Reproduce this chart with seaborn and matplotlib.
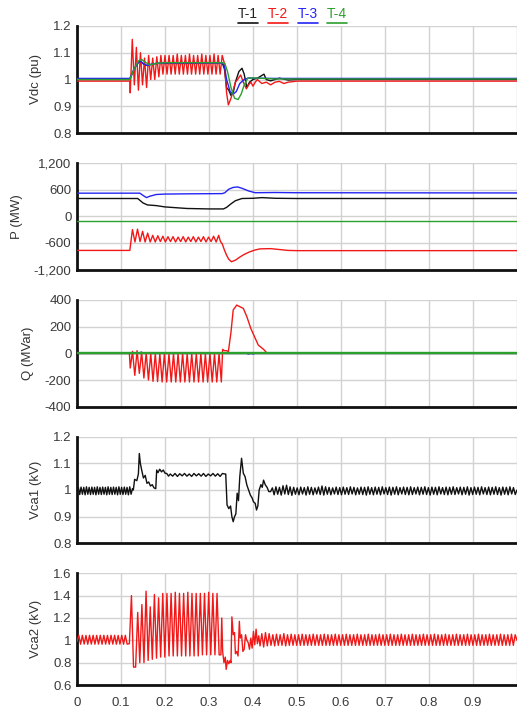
import numpy as np
import pandas as pd
import matplotlib
matplotlib.use("Agg")
import matplotlib.pyplot as plt
from matplotlib.lines import Line2D
import seaborn as sns

# ---------------------------------------------------------------- labels
series_names = ["T-1", "T-2", "T-3", "T-4"]
series_colors = ["#111111", "#f21818", "#2424f5", "#2ca02c"]
legend_text_colors = ["#222222", "#f21818", "#2424f5", "#2ca02c"]

x_ticks = [0, 0.1, 0.2, 0.3, 0.4, 0.5, 0.6, 0.7, 0.8, 0.9, 1.0]
x_tick_labels = ["0", "0.1", "0.2", "0.3", "0.4", "0.5", "0.6", "0.7", "0.8", "0.9", ""]

panel_ylabels = ["Vdc (pu)", "P (MW)", "Q (MVar)", "Vca1 (kV)", "Vca2 (kV)"]
panel_yticks = [
    [0.8, 0.9, 1.0, 1.1, 1.2],
    [-1200, -600, 0, 600, 1200],
    [-400, -200, 0, 200, 400],
    [0.8, 0.9, 1.0, 1.1, 1.2],
    [0.6, 0.8, 1.0, 1.2, 1.4, 1.6],
]
panel_ytick_labels = [
    ["0.8", "0.9", "1", "1.1", "1.2"],
    ["-1,200", "-600", "0", "600", "1,200"],
    ["-400", "-200", "0", "200", "400"],
    ["0.8", "0.9", "1", "1.1", "1.2"],
    ["0.6", "0.8", "1", "1.2", "1.4", "1.6"],
]

# ---------------------------------------------------------------- Vdc (pu)
vdc_t1_time = [0, 0.12, 0.13, 0.14, 0.145, 0.155, 0.165, 0.18, 0.2, 0.25,
               0.33, 0.335, 0.34, 0.345, 0.35, 0.355, 0.36, 0.368, 0.375, 0.38,
               0.386, 0.392, 0.4, 0.41, 0.42, 0.425, 0.43, 0.44, 0.46, 0.48, 0.5, 1.0]
vdc_t1_vals = [1.0, 1.0, 1.04, 1.065, 1.067, 1.052, 1.055, 1.06, 1.06, 1.06,
               1.062, 1.04, 0.97, 0.96, 0.94, 0.95, 0.99, 1.03, 1.042, 1.02,
               0.97, 0.99, 1.0, 1.005, 1.015, 1.02, 1.0, 0.995, 1.005, 0.998, 1.0, 1.0]

vdc_t2_pre_time = [0, 0.12]
vdc_t2_pre_vals = [0.994, 0.994]
vdc_t2_fault_span = (0.121, 0.33)
vdc_t2_fault_vals = [0.95, 1.15, 0.98, 1.12, 0.96, 1.10, 0.98, 1.08, 0.97, 1.09,
                     1.00, 1.08, 1.00, 1.085, 1.01, 1.09, 1.02, 1.09, 1.02, 1.09,
                     1.02, 1.09, 1.02, 1.095, 1.02, 1.09, 1.02, 1.09, 1.02, 1.095,
                     1.02, 1.09, 1.02, 1.09, 1.02, 1.095, 1.02, 1.09, 1.02, 1.09,
                     1.02, 1.095, 1.02, 1.09, 1.02, 1.09]
vdc_t2_post_time = [0.335, 0.34, 0.344, 0.35, 0.355, 0.36, 0.365, 0.372, 0.378, 0.385,
                    0.39, 0.395, 0.4, 0.405, 0.41, 0.42, 0.43, 0.44, 0.45, 0.46,
                    0.47, 0.48, 0.5, 1.0]
vdc_t2_post_vals = [1.06, 0.95, 0.905, 0.93, 0.96, 0.99, 1.0, 1.017, 0.99, 0.965,
                    0.98, 0.99, 0.975, 0.99, 1.0, 0.985, 0.99, 0.98, 0.99, 0.993,
                    0.985, 0.99, 0.994, 0.994]

vdc_t3_time = [0, 0.12, 0.13, 0.14, 0.145, 0.15, 0.16, 0.17, 0.18, 0.2, 0.33,
               0.335, 0.34, 0.348, 0.355, 0.362, 0.37, 0.38, 0.39, 0.4, 0.45, 1.0]
vdc_t3_vals = [1.004, 1.004, 1.04, 1.065, 1.068, 1.06, 1.052, 1.058, 1.06, 1.062, 1.062,
               1.05, 1.0, 0.955, 0.945, 0.955, 0.985, 1.0, 1.006, 1.005, 1.004, 1.004]

vdc_t4_time = [0, 0.12, 0.13, 0.14, 0.147, 0.155, 0.165, 0.18, 0.2, 0.33,
               0.336, 0.342, 0.35, 0.358, 0.366, 0.373, 0.38, 0.388, 0.4, 0.45, 1.0]
vdc_t4_vals = [1.0, 1.0, 1.04, 1.07, 1.075, 1.065, 1.055, 1.06, 1.063, 1.063,
               1.06, 1.03, 0.97, 0.93, 0.925, 0.945, 0.98, 1.005, 1.006, 1.002, 1.002]

# ---------------------------------------------------------------- P (MW)
p_t1_time = [0, 0.138, 0.15, 0.16, 0.18, 0.2, 0.25, 0.3, 0.333, 0.34,
             0.35, 0.36, 0.375, 0.4, 0.42, 0.45, 0.5, 1.0]
p_t1_vals = [400, 400, 300, 255, 240, 210, 175, 165, 165, 200,
             280, 350, 400, 405, 420, 405, 400, 400]

p_t2_pre_time = [0, 0.12]
p_t2_pre_vals = [-770, -770]
p_t2_fault_span = (0.126, 0.322)
p_t2_fault_vals = [-300, -580, -290, -570, -340, -580, -380, -580, -430, -580,
                   -440, -570, -450, -580, -460, -570, -460, -580, -470, -570,
                   -460, -580, -470, -570, -460, -580, -470, -570, -460, -580,
                   -470, -570, -450, -580, -430]
p_t2_post_time = [0.326, 0.33, 0.335, 0.34, 0.345, 0.351, 0.36, 0.37, 0.38,
                  0.393, 0.405, 0.416, 0.44, 0.46, 0.48, 0.5, 1.0]
p_t2_post_vals = [-570, -620, -760, -880, -970, -1025, -990, -920, -860,
                  -800, -760, -735, -730, -750, -770, -775, -775]

p_t3_time = [0, 0.143, 0.15, 0.158, 0.165, 0.18, 0.2, 0.25, 0.33, 0.336,
             0.345, 0.355, 0.365, 0.375, 0.39, 0.405, 0.45, 0.5, 1.0]
p_t3_vals = [520, 520, 470, 420, 450, 490, 500, 505, 510, 530,
             610, 650, 660, 630, 570, 530, 535, 530, 525]

p_t4_time = [0, 1.0]
p_t4_vals = [-100, -100]

# ---------------------------------------------------------------- Q (MVar)
q_t1_time = [0, 1.0]
q_t1_vals = [0, 0]

q_t2_pre_time = [0, 0.119]
q_t2_pre_vals = [0, 0]
q_t2_fault_span = (0.121, 0.328)
q_t2_fault_vals = [-110, 15, -165, 20, -150, 10, -185, 5, -200, 0,
                   -210, 0, -212, -2, -215, 0, -215, -3, -215, 0,
                   -215, -2, -215, 0, -215, -3, -215, 0, -215, -2,
                   -215, 0, -215, -3, -215, 0, -215, -2, -215, 0, -215]
q_t2_post_time = [0.331, 0.335, 0.34, 0.344, 0.35, 0.355, 0.363, 0.37, 0.378,
                  0.386, 0.395, 0.4, 0.412, 0.424, 0.431, 1.0]
q_t2_post_vals = [30, 20, 20, 12, 160, 325, 362, 350, 337,
                  275, 187, 150, 62, 30, 5, 0]

q_t3_time = [0, 0.13, 0.135, 0.14, 0.145, 0.15, 0.155, 0.385, 0.39, 0.395, 0.4, 0.405, 0.41, 1.0]
q_t3_vals = [0, 0, 6, 2, 8, 3, 0, 0, -5, 0, -4, 0, 0, 0]

q_t4_time = [0, 1.0]
q_t4_vals = [0, 0]

# ---------------------------------------------------------------- Vca1 (kV)
vca1_pre_span = (0.0, 0.126)
vca1_pre_vals = [0.990, 1.010, 0.983, 1.011, 0.984, 1.010, 0.982, 1.012, 0.984, 1.010,
                 0.983, 1.011, 0.984, 1.010, 0.982, 1.012, 0.984, 1.010, 0.983, 1.011,
                 0.984, 1.010, 0.982, 1.012, 0.984, 1.010, 0.983, 1.011, 0.984, 1.010,
                 0.982, 1.012, 0.984, 1.010, 0.983, 1.011, 0.984, 1.010, 0.982, 1.012,
                 0.984, 1.005]
vca1_fault_time = [0.128, 0.131, 0.136, 0.1395, 0.1416, 0.144, 0.147, 0.151, 0.155, 0.159,
                   0.163, 0.167, 0.171, 0.175, 0.179, 0.1811, 0.184, 0.188, 0.192, 0.196,
                   0.2, 0.204, 0.208]
vca1_fault_vals = [1.00, 1.04, 1.035, 1.06, 1.137, 1.10, 1.075, 1.045, 1.055, 1.025,
                   1.03, 1.015, 1.02, 1.008, 1.005, 1.075, 1.065, 1.078, 1.068, 1.075,
                   1.063, 1.062, 1.052]
vca1_plateau_span = (0.212, 0.336)
vca1_plateau_vals = [1.060, 1.052, 1.062, 1.051, 1.061, 1.053, 1.062, 1.052, 1.060, 1.051,
                     1.062, 1.053, 1.061, 1.052, 1.062, 1.051, 1.060, 1.053, 1.062, 1.052,
                     1.061, 1.051, 1.062, 1.060]
vca1_post_time = [0.338, 0.341, 0.345, 0.349, 0.352, 0.355, 0.358, 0.361, 0.364, 0.367,
                  0.370, 0.374, 0.378, 0.382, 0.386, 0.390, 0.394, 0.398, 0.401, 0.405,
                  0.408, 0.411, 0.414, 0.418, 0.421, 0.424, 0.428, 0.432, 0.436]
vca1_post_vals = [1.06, 0.944, 0.93, 0.94, 0.90, 0.881, 0.90, 0.91, 0.988, 0.96,
                  1.05, 1.119, 1.063, 1.05, 1.019, 1.0, 0.981, 0.97, 0.956, 0.95,
                  0.925, 0.94, 1.0, 1.02, 1.01, 1.037, 1.019, 1.01, 0.994]
vca1_steady_span = (0.44, 1.0)
vca1_steady_vals = [
    0.994, 1.008, 0.982, 1.012, 0.984, 1.010, 0.981, 1.016, 0.985, 1.018, 0.983, 1.012, 0.980, 1.010, 0.984, 1.008, 0.982, 1.011, 0.985, 1.009,
    0.981, 1.012, 0.984, 1.010, 0.982, 1.008, 0.985, 1.011, 0.983, 1.015, 0.981, 1.012, 0.984, 1.010, 0.982, 1.008, 0.985, 1.011, 0.983, 1.009,
    0.982, 1.011, 0.984, 1.009, 0.983, 1.012, 0.985, 1.010, 0.982, 1.008, 0.984, 1.011, 0.983, 1.010, 0.981, 1.012, 0.984, 1.009, 0.982, 1.011,
    0.984, 1.010, 0.982, 1.012, 0.985, 1.009, 0.983, 1.011, 0.981, 1.010, 0.984, 1.012, 0.982, 1.009, 0.985, 1.011, 0.983, 1.010, 0.982, 1.012,
    0.983, 1.009, 0.985, 1.011, 0.982, 1.010, 0.984, 1.012, 0.983, 1.009, 0.981, 1.011, 0.984, 1.010, 0.982, 1.012, 0.985, 1.009, 0.983, 1.011,
    0.982, 1.010, 0.984, 1.012, 0.983, 1.009, 0.985, 1.011, 0.982, 1.010, 0.984, 1.012, 0.981, 1.009, 0.983, 1.011, 0.984, 1.010, 0.982, 1.012,
    0.985, 1.009, 0.983, 1.011, 0.982, 1.010, 0.984, 1.012, 0.983, 1.009, 0.981, 1.011, 0.984, 1.010, 0.982, 1.012, 0.985, 1.009, 0.983, 1.000,
]

# ---------------------------------------------------------------- Vca2 (kV)
vca2_pre_span = (0.0, 0.118)
vca2_pre_vals = [0.990, 1.045, 0.965, 1.045, 0.966, 1.044, 0.965, 1.045, 0.966, 1.045,
                 0.965, 1.044, 0.966, 1.045, 0.965, 1.045, 0.966, 1.044, 0.965, 1.045,
                 0.966, 1.045, 0.965, 1.044, 0.966, 1.045, 0.965, 1.045, 0.966, 0.970]
vca2_fault_span = (0.119, 0.323)
vca2_fault_vals = [0.97, 1.40, 0.76, 0.76, 1.25, 0.80, 1.32, 0.80, 1.44, 0.82,
                   1.30, 0.83, 1.41, 0.84, 1.38, 0.85, 1.42, 0.85, 1.42, 0.86,
                   1.42, 0.86, 1.43, 0.86, 1.42, 0.86, 1.42, 0.86, 1.43, 0.86,
                   1.42, 0.86, 1.42, 0.86, 1.42, 0.87, 1.42, 0.87, 1.43, 0.87,
                   1.42, 0.87, 1.42, 0.87]
vca2_post_time = [0.327, 0.329, 0.331, 0.334, 0.337, 0.339, 0.342, 0.345, 0.348, 0.350,
                  0.352, 0.355, 0.358, 0.360, 0.363, 0.366, 0.369, 0.371, 0.374, 0.377,
                  0.380, 0.383, 0.386, 0.389, 0.392, 0.395, 0.398, 0.401, 0.404, 0.407,
                  0.410, 0.413, 0.416]
vca2_post_vals = [0.87, 1.20, 0.90, 0.80, 0.85, 0.74, 0.82, 0.79, 0.82, 0.80,
                  1.21, 1.05, 1.07, 0.88, 0.90, 0.86, 1.17, 1.02, 1.05, 0.90,
                  0.92, 1.05, 1.00, 0.98, 0.92, 1.02, 0.93, 1.08, 0.96, 1.10,
                  0.97, 1.04, 0.95]
vca2_steady_span = (0.42, 1.0)
vca2_steady_vals = [
    1.06, 0.94, 1.07, 0.95, 1.06, 0.955, 1.05, 0.95, 1.055, 0.955, 1.05, 0.955, 1.06, 0.95, 1.05, 0.955, 1.055, 0.955, 1.05, 0.955,
    1.05, 0.955, 1.055, 0.955, 1.05, 0.955, 1.05, 0.955, 1.055, 0.955, 1.05, 0.955, 1.05, 0.955, 1.055, 0.955, 1.05, 0.955, 1.05, 0.955,
    1.055, 0.955, 1.05, 0.955, 1.05, 0.955, 1.055, 0.955, 1.05, 0.955, 1.05, 0.955, 1.055, 0.955, 1.05, 0.955, 1.05, 0.955, 1.055, 0.955,
    1.05, 0.955, 1.05, 0.955, 1.055, 0.955, 1.05, 0.955, 1.05, 0.955, 1.055, 0.955, 1.05, 0.955, 1.05, 0.955, 1.055, 0.955, 1.05, 0.955,
    1.05, 0.955, 1.055, 0.955, 1.05, 0.955, 1.05, 0.955, 1.055, 0.955, 1.05, 0.955, 1.05, 0.955, 1.055, 0.955, 1.05, 0.955, 1.05, 0.955,
    1.055, 0.955, 1.05, 0.955, 1.05, 0.955, 1.055, 0.955, 1.05, 0.955, 1.05, 0.955, 1.055, 0.955, 1.05, 0.955, 1.05, 0.955, 1.055, 0.955,
    1.05, 0.955, 1.05, 0.955, 1.055, 0.955, 1.05, 0.955, 1.05, 0.955, 1.055, 0.955, 1.05, 0.955, 1.05, 0.955, 1.055, 0.955, 1.05, 1.0,
]


# ---------------------------------------------------------------- helpers
def points(times, vals):
    return np.asarray(times, float), np.asarray(vals, float)


def ripple(span, vals):
    return np.linspace(span[0], span[1], len(vals)), np.asarray(vals, float)


def join(*parts):
    t = np.concatenate([p[0] for p in parts])
    v = np.concatenate([p[1] for p in parts])
    return pd.DataFrame({"t": t, "v": v})


panels = [
    [
        join(points(vdc_t1_time, vdc_t1_vals)),
        join(points(vdc_t2_pre_time, vdc_t2_pre_vals),
             ripple(vdc_t2_fault_span, vdc_t2_fault_vals),
             points(vdc_t2_post_time, vdc_t2_post_vals)),
        join(points(vdc_t3_time, vdc_t3_vals)),
        join(points(vdc_t4_time, vdc_t4_vals)),
    ],
    [
        join(points(p_t1_time, p_t1_vals)),
        join(points(p_t2_pre_time, p_t2_pre_vals),
             ripple(p_t2_fault_span, p_t2_fault_vals),
             points(p_t2_post_time, p_t2_post_vals)),
        join(points(p_t3_time, p_t3_vals)),
        join(points(p_t4_time, p_t4_vals)),
    ],
    [
        join(points(q_t1_time, q_t1_vals)),
        join(points(q_t2_pre_time, q_t2_pre_vals),
             ripple(q_t2_fault_span, q_t2_fault_vals),
             points(q_t2_post_time, q_t2_post_vals)),
        join(points(q_t3_time, q_t3_vals)),
        join(points(q_t4_time, q_t4_vals)),
    ],
    [
        join(ripple(vca1_pre_span, vca1_pre_vals),
             points(vca1_fault_time, vca1_fault_vals),
             ripple(vca1_plateau_span, vca1_plateau_vals),
             points(vca1_post_time, vca1_post_vals),
             ripple(vca1_steady_span, vca1_steady_vals)),
    ],
    [
        None,
        join(ripple(vca2_pre_span, vca2_pre_vals),
             ripple(vca2_fault_span, vca2_fault_vals),
             points(vca2_post_time, vca2_post_vals),
             ripple(vca2_steady_span, vca2_steady_vals)),
    ],
]

# ---------------------------------------------------------------- figure
sns.set_style("white")
plt.rcParams["font.family"] = ["Liberation Sans", "DejaVu Sans"]

W, H = 517, 710
fig = plt.figure(figsize=(W / 100, H / 100), dpi=100)

# (top px, bottom px) of each panel
panel_rows = [(26, 133), (163, 269.5), (300, 406.7), (436.7, 543.3), (573.3, 685)]
left_px, right_px = 77, 517

for i, (top, bot) in enumerate(panel_rows):
    ax = fig.add_axes([left_px / W, 1 - bot / H, (right_px - left_px) / W, (bot - top) / H])
    for k, df in enumerate(panels[i]):
        if df is None:
            continue
        lw = 1.0
        if i == 2 and k == 3:
            lw = 1.7
        sns.lineplot(data=df, x="t", y="v", ax=ax, color=series_colors[k], lw=lw,
                     estimator=None, sort=False, errorbar=None, zorder=2 + k)

    yt = panel_yticks[i]
    ax.set_xlim(0, 1)
    ax.set_ylim(yt[0], yt[-1])
    ax.set_xticks(x_ticks)
    ax.set_yticks(yt)
    ax.set_yticklabels(panel_ytick_labels[i])
    if i == len(panel_rows) - 1:
        ax.set_xticklabels(x_tick_labels)
    else:
        ax.set_xticklabels([])
    ax.set_xlabel("")
    ax.set_ylabel(panel_ylabels[i], fontsize=9.5, color="#333333", labelpad=8)
    ax.grid(True, color="#d2d2d2", lw=1.0)
    ax.set_axisbelow(True)
    for side in ("top", "right"):
        ax.spines[side].set_visible(False)
    for side in ("left", "bottom"):
        ax.spines[side].set_color("#111111")
        ax.spines[side].set_linewidth(2.0)
    ax.tick_params(length=0, labelsize=9.5, labelcolor="#3a3a3a", pad=4)
    ax.tick_params(axis="x", pad=9)

# legend: coloured, underlined series names above the first panel
legend_centers = [248, 278, 308, 337]
texts = []
for name, c, xc in zip(series_names, legend_text_colors, legend_centers):
    texts.append(fig.text(xc / W, 1 - 14 / H, name, color=c, fontsize=10,
                          ha="center", va="center"))
fig.canvas.draw()
renderer = fig.canvas.get_renderer()
for txt, c in zip(texts, series_colors):
    bb = txt.get_window_extent(renderer)
    y = (bb.y0 - 2) / H
    fig.add_artist(Line2D([bb.x0 / W, bb.x1 / W], [y, y], color=c, lw=1.2,
                          transform=fig.transFigure))

fig.savefig("out.png", dpi=100)
